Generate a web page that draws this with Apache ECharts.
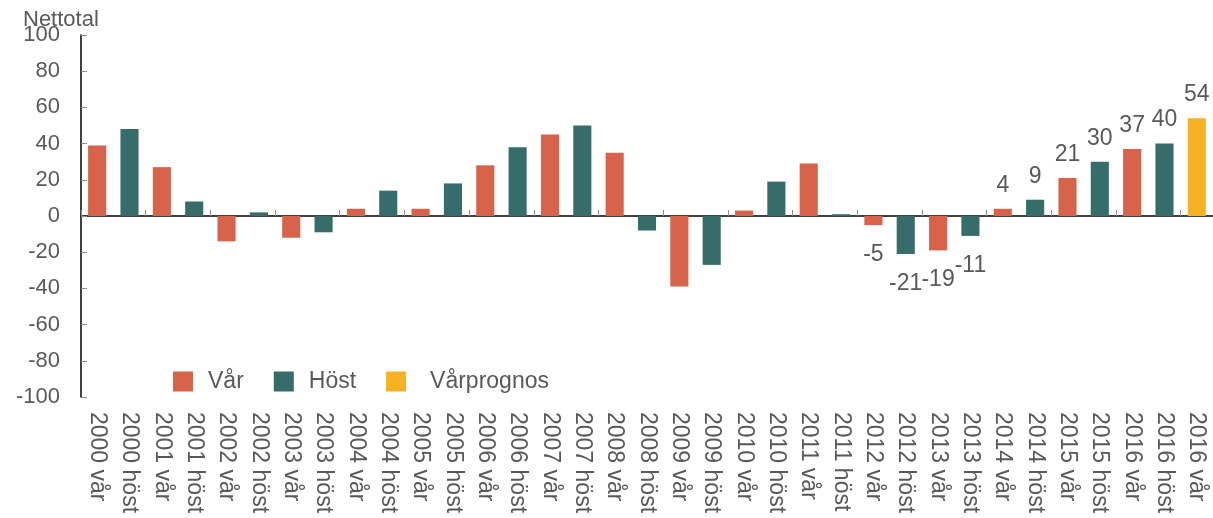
<!DOCTYPE html>
<html>
<head>
<meta charset="utf-8">
<script src="https://cdn.jsdelivr.net/npm/echarts@6/dist/echarts.min.js"></script>
<style>
  html, body { margin: 0; padding: 0; background: #fff; }
  #chart { width: 1213px; height: 518px; }
</style>
</head>
<body>
<div id="chart"></div>
<script>
// categories (last one is the spring forecast, labelled as in the source)
const categories = [
  '2000 vår', '2000 höst', '2001 vår', '2001 höst', '2002 vår', '2002 höst',
  '2003 vår', '2003 höst', '2004 vår', '2004 höst', '2005 vår', '2005 höst',
  '2006 vår', '2006 höst', '2007 vår', '2007 höst', '2008 vår', '2008 höst',
  '2009 vår', '2009 höst', '2010 vår', '2010 höst', '2011 vår', '2011 höst',
  '2012 vår', '2012 höst', '2013 vår', '2013 höst', '2014 vår', '2014 höst',
  '2015 vår', '2015 höst', '2016 vår', '2016 höst', '2016 vår'
];
const values = [
  39, 48, 27, 8, -14, 2, -12, -9, 4, 14, 4, 18,
  28, 38, 45, 50, 35, -8, -39, -27, 3, 19, 29, 1,
  -5, -21, -19, -11, 4, 9, 21, 30, 37, 40, 54
];
// which series each bar belongs to
const kinds = [
  'v', 'h', 'v', 'h', 'v', 'h', 'v', 'h', 'v', 'h', 'v', 'h',
  'v', 'h', 'v', 'h', 'v', 'h', 'v', 'h', 'v', 'h', 'v', 'h',
  'v', 'h', 'v', 'h', 'v', 'h', 'v', 'h', 'v', 'h', 'p'
];
const firstLabelled = 24; // values shown from 2012 vår onwards
const yTicks = { min: -100, max: 100, interval: 20 };

const textColor = '#595959';
const font = 'Arial, "Liberation Sans", sans-serif';

function seriesData(kind) {
  return values.map((v, i) => {
    if (kinds[i] !== kind) return '-';
    return {
      value: v,
      label: {
        show: i >= firstLabelled,
        position: v < 0 ? 'bottom' : 'top',
        distance: v < 0 ? 18 : 12
      }
    };
  });
}

function bar(name, kind, color) {
  return {
    name: name,
    type: 'bar',
    stack: 'all',
    barWidth: '56%',
    xAxisIndex: 0,
    itemStyle: { color: color },
    label: {
      color: textColor,
      fontSize: 23,
      fontFamily: font
    },
    data: seriesData(kind)
  };
}

const chart = echarts.init(document.getElementById('chart'));
chart.setOption({
  animation: false,
  textStyle: { fontFamily: font },
  title: {
    text: 'Nettotal',
    left: 18,
    top: 4,
    textStyle: { fontSize: 22, fontWeight: 'normal', color: textColor, fontFamily: font }
  },
  legend: {
    left: 168,
    top: 365,
    icon: 'rect',
    itemWidth: 20,
    itemHeight: 20,
    itemGap: 30,
    textStyle: { fontSize: 23, color: textColor, padding: [0, 0, 0, 10] },
    data: [
      'Vår',
      'Höst',
      { name: 'Vårprognos', textStyle: { padding: [0, 0, 0, 19] } }
    ]
  },
  grid: { left: 81, right: -5, top: 35, bottom: 121, containLabel: false },
  xAxis: [
    {
      type: 'category',
      position: 'bottom',
      data: categories,
      axisLine: { show: false, onZero: false },
      axisTick: { show: false },
      axisLabel: {
        rotate: -90,
        margin: 15,
        fontSize: 23,
        color: textColor,
        interval: 0
      }
    },
    {
      type: 'category',
      position: 'bottom',
      data: categories,
      axisLine: { show: true, onZero: true, lineStyle: { color: '#000', width: 1.5 } },
      axisTick: { show: true, inside: true, interval: 1, length: 6, lineStyle: { color: '#8c8c8c' } },
      axisLabel: { show: false }
    }
  ],
  yAxis: {
    type: 'value',
    min: yTicks.min,
    max: yTicks.max,
    interval: yTicks.interval,
    axisLine: { show: true, lineStyle: { color: '#000', width: 1.5 } },
    axisTick: { show: true, inside: true, length: 6, lineStyle: { color: '#8c8c8c' } },
    splitLine: { show: false },
    axisLabel: { fontSize: 22, color: textColor, margin: 21 }
  },
  series: [
    bar('Vår', 'v', '#D6634A'),
    bar('Höst', 'h', '#366C69'),
    bar('Vårprognos', 'p', '#F5B223')
  ]
});
</script>
</body>
</html>
